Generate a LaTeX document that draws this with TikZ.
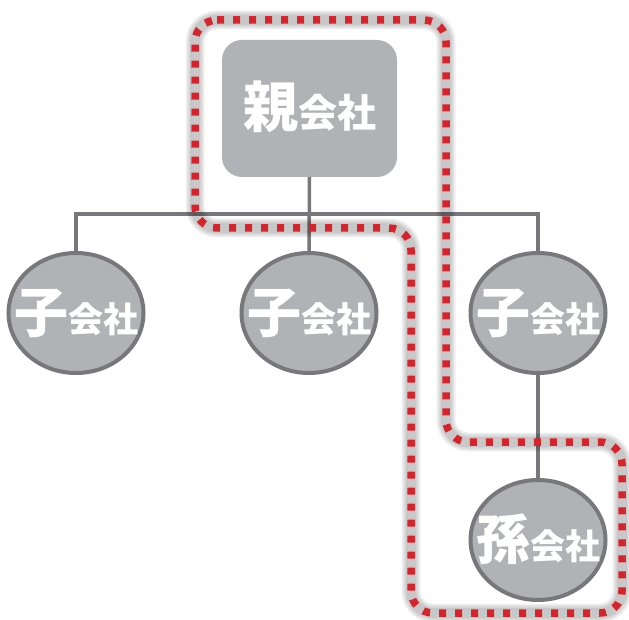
\documentclass[tikz,border=0pt]{standalone}
\usepackage{fontspec}
\newfontfamily\jp{Noto Sans CJK JP}
\usetikzlibrary{shapes.geometric}
\definecolor{boxgray}{RGB}{177,178,182}
\definecolor{linegray}{RGB}{120,120,124}
\definecolor{dotred}{RGB}{216,35,45}
\tikzset{
  company/.style={fill=boxgray, text=white, font=\jp\bfseries, inner sep=0pt, outer sep=0pt},
  parentbox/.style={company, rectangle, rounded corners=20pt, minimum width=175pt, minimum height=137pt},
  childbox/.style={company, ellipse, draw=linegray, line width=4pt, minimum width=135pt, minimum height=120pt},
  link/.style={draw=linegray, line width=3.5pt},
  redshadow/.style={draw=black, opacity=0.06, rounded corners=22pt},
  reddots/.style={draw=dotred, line width=7.5pt, dash pattern=on 7pt off 9pt, rounded corners=22pt}
}
\newcommand{\bigchar}[2]{{\fontsize{#1}{#1}\selectfont #2}}
\newcommand{\smlchar}[2]{{\fontsize{#1}{#1}\selectfont #2}}
\newcommand{\lbl}[5]{\smash{\makebox[0pt]{\raisebox{-19pt}{\bigchar{#1}{#2}\smlchar{#3}{#4}}}}}
\begin{document}
\begin{tikzpicture}[x=1pt,y=-1pt]
\useasboundingbox (0,0) rectangle (629,620);
\node[parentbox] (oya) at (309.5,108.5) {\lbl{55}{親}{39}{会社}{}};
\node[childbox] (ko1) at (76,313) {\lbl{54}{子}{35}{会社}{}};
\node[childbox] (ko2) at (309,313) {\lbl{54}{子}{35}{会社}{}};
\node[childbox] (ko3) at (538,313) {\lbl{54}{子}{35}{会社}{}};
\node[childbox] (mago) at (538,540) {\lbl{54}{孫}{35}{会社}{}};
\coordinate (bar) at (309,214);
\draw[link] (oya.south) -- (ko2.north);
\draw[link] (ko1.north) |- (bar) -| (ko3.north);
\draw[link] (ko3.south) -- (mago.north);
% red dotted outline
\coordinate (r1) at (195,20);
\coordinate (r2) at (446,20);
\coordinate (r3) at (446,442);
\coordinate (r4) at (622,442);
\coordinate (r5) at (622,613);
\coordinate (r6) at (411,613);
\coordinate (r7) at (411,228);
\coordinate (r8) at (195,228);
\foreach \w in {19,16,13,10} {
  \draw[redshadow, line width=\w pt] (r1) -- (r2) -- (r3) -- (r4) -- (r5) -- (r6) -- (r7) -- (r8) -- cycle;
}
\draw[reddots] (r1) -- (r2) -- (r3) -- (r4) -- (r5) -- (r6) -- (r7) -- (r8) -- cycle;
\end{tikzpicture}
\end{document}
